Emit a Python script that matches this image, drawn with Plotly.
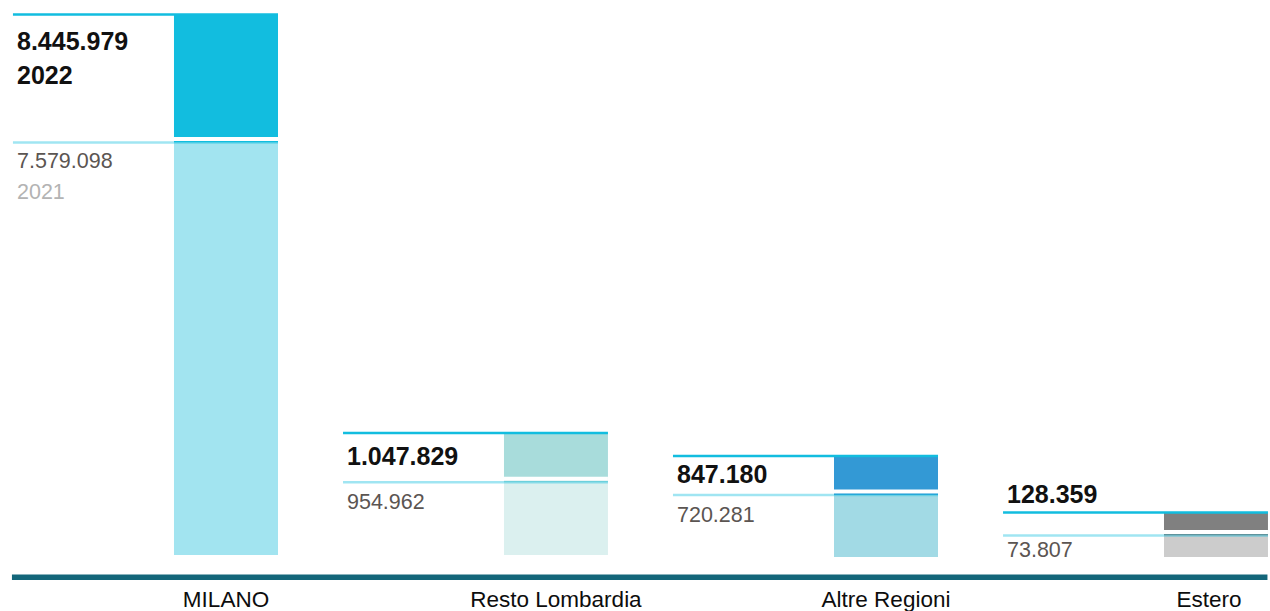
import plotly.graph_objects as go

# Data
categories = ["MILANO", "Resto Lombardia", "Altre Regioni", "Estero"]
values_2022 = [8445979, 1047829, 847180, 128359]
values_2021 = [7579098, 954962, 720281, 73807]
year_now, year_prev = "2022", "2021"

# Styling per category
upper_colors = ["#12bddf", "#a8dcdb", "#3399d5", "#808080"]
lower_colors = ["#a2e4f0", "#dbf0ef", "#a2dae5", "#cccccc"]

# Each category lives in its own panel with its own value scale
x_domains = [[0.0102, 0.2189], [0.2701, 0.4787], [0.5299, 0.7386], [0.7898, 0.9984]]
y_domains = [[0.0917, 1.0], [0.0917, 1.0], [0.0884, 1.0], [0.0884, 1.0]]
y_ranges = [[4785442, 8544180], [818017, 1863471], [518545, 2330913], [22813, 1343907]]
x_range = [-2.0481, 0.5]
top_label_shift = [-26, -23, -17.7, 18.5]
prev_label_shift = [-19, -19.7, -20.5, -15]
tick_len = [24, 24, 22, 22]
tick_shift = [0, 0, 0, -7]

LINE_NOW = "#12bddf"
LINE_PREV = "rgba(18,189,223,0.4)"
FONT = "Liberation Sans, Arial, Helvetica, sans-serif"


def fmt(v):
    return f"{v:,}".replace(",", ".")


fig = go.Figure()
shapes = []
annotations = []

for i, cat in enumerate(categories):
    n = "" if i == 0 else str(i + 1)
    xa, ya = "x" + n, "y" + n
    v22, v21 = values_2022[i], values_2021[i]

    fig.add_trace(go.Bar(x=[0], y=[v21], width=1, marker=dict(color=lower_colors[i], line=dict(width=0)),
                         xaxis=xa, yaxis=ya, hoverinfo="skip"))
    fig.add_trace(go.Bar(x=[0], y=[v22 - v21], base=[v21], width=1,
                         marker=dict(color=upper_colors[i], line=dict(width=0)),
                         xaxis=xa, yaxis=ya, hoverinfo="skip"))

    fig.update_layout(**{
        "xaxis" + n: dict(domain=x_domains[i], anchor=ya, range=x_range, tickvals=[0], ticktext=[cat],
                          ticks="outside", ticklen=tick_len[i], tickcolor="rgba(0,0,0,0)",
                          ticklabelshift=tick_shift[i], automargin=False,
                          tickfont=dict(family=FONT, size=22.5, color="#0d0d0d"),
                          showgrid=False, zeroline=False, showline=False, fixedrange=True),
        "yaxis" + n: dict(domain=y_domains[i], anchor=xa, range=y_ranges[i], visible=False,
                          automargin=False, showgrid=False, zeroline=False, fixedrange=True),
    })

    xd = xa + " domain"
    # white separation between the two tiers
    shapes.append(dict(type="rect", xref=xd, x0=0, x1=1, yref=ya, ysizemode="pixel",
                       yanchor=v21, y0=1.5, y1=5.5, fillcolor="white", line=dict(width=0)))
    # reference lines for each year
    shapes.append(dict(type="line", xref=xd, x0=0, x1=1, yref=ya, y0=v22, y1=v22,
                       line=dict(color=LINE_NOW, width=2.5)))
    shapes.append(dict(type="line", xref=xd, x0=0, x1=1, yref=ya, y0=v21, y1=v21,
                       line=dict(color=LINE_PREV, width=2.5)))

    annotations.append(dict(xref=xd, x=0, xanchor="left", xshift=2, yref=ya, y=v22, yanchor="middle",
                            yshift=top_label_shift[i], text=f"<b>{fmt(v22)}</b>", showarrow=False,
                            font=dict(family=FONT, size=25, color="#111111")))
    annotations.append(dict(xref=xd, x=0, xanchor="left", xshift=2, yref=ya, y=v21, yanchor="middle",
                            yshift=prev_label_shift[i], text=fmt(v21), showarrow=False,
                            font=dict(family=FONT, size=21.5, color="#5b5552")))
    if i == 0:
        annotations.append(dict(xref=xd, x=0, xanchor="left", xshift=2, yref=ya, y=v22, yanchor="middle",
                                yshift=-60.5, text=f"<b>{year_now}</b>", showarrow=False,
                                font=dict(family=FONT, size=25, color="#111111")))
        annotations.append(dict(xref=xd, x=0, xanchor="left", xshift=2, yref=ya, y=v21, yanchor="middle",
                                yshift=-50, text=year_prev, showarrow=False,
                                font=dict(family=FONT, size=21.5, color="#b3b3b3")))

# baseline under all panels
shapes.append(dict(type="line", xref="paper", yref="paper", x0=0.0094, x1=0.998, y0=0.0552, y1=0.0552,
                   line=dict(color="#13667a", width=5.5)))

fig.update_layout(
    width=1270,
    height=611,
    autosize=False,
    margin=dict(l=0, r=0, t=0, b=0, autoexpand=False),
    barmode="overlay",
    showlegend=False,
    paper_bgcolor="white",
    plot_bgcolor="white",
    shapes=shapes,
    annotations=annotations,
    font=dict(family=FONT),
)

fig.write_html("out.html", config={"responsive": False, "displayModeBar": False})
